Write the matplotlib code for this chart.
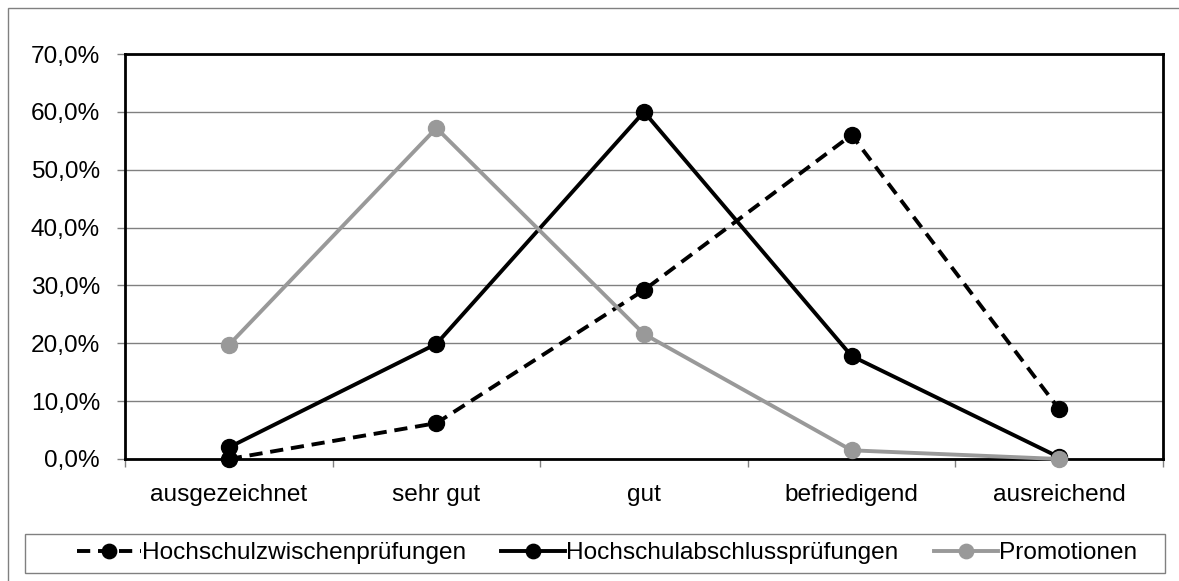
"""Notenverteilung: Zwischenprüfungen, Abschlussprüfungen, Promotionen."""

import numpy as np
import matplotlib as mpl
mpl.use("Agg")
import matplotlib.pyplot as plt
from matplotlib.patches import Rectangle
from matplotlib.ticker import FuncFormatter

plt.rcParams["font.family"] = ["Liberation Sans", "DejaVu Sans"]

# grade categories
GRADES = ["ausgezeichnet", "sehr gut", "gut", "befriedigend", "ausreichend"]

# share of grades in percent
ZWISCHEN = [0.0, 6.2, 29.2, 56.0, 8.6]
ABSCHLUSS = [2.0, 19.9, 60.0, 17.8, 0.3]
PROMOTION = [19.7, 57.2, 21.6, 1.5, 0.0]

LABELS = ["Hochschulzwischenprüfungen", "Hochschulabschlussprüfungen",
          "Promotionen"]

W, H = 1179, 581
FS = 17.6


def pct(v, pos):
    return f"{v:.1f}%".replace(".", ",")


def make_plot():
    fig = plt.figure(figsize=(W / 100, H / 100), dpi=100)
    ax = fig.add_axes([125 / W, 1 - 459 / H, (1163 - 125) / W, (459 - 54) / H])

    # outer chart border
    fig.patches.append(Rectangle((8 / W, -0.1), 1.2, 1 - 8 / H + 0.1,
                                 transform=fig.transFigure, fill=False,
                                 ec="#808080", lw=1.0))
    # legend border
    fig.patches.append(Rectangle((25 / W, 1 - 573 / H), (1165 - 25) / W,
                                 39 / H, transform=fig.transFigure,
                                 fill=False, ec="#808080", lw=1.0))

    x = np.arange(len(GRADES))
    ax.plot(x, ZWISCHEN, c="black", lw=2.8, ls=(0, (3.4, 2.0)),
            marker="o", ms=11.5, label=LABELS[0], zorder=3, clip_on=False)
    ax.plot(x, ABSCHLUSS, c="black", lw=2.8, marker="o", ms=11.5,
            label=LABELS[1], zorder=4, clip_on=False)
    ax.plot(x, PROMOTION, c="#999999", lw=2.8, marker="o", ms=11.5,
            label=LABELS[2], zorder=5, clip_on=False)

    ax.set_xlim(-0.5, len(GRADES) - 0.5)
    ax.set_ylim(0, 70)
    ax.set_yticks(np.arange(0, 71, 10))
    ax.yaxis.set_major_formatter(FuncFormatter(pct))
    ax.grid(axis="y", c="#808080", lw=1.0)
    ax.set_axisbelow(True)

    ax.set_xticks(x)
    ax.set_xticklabels(GRADES)
    ax.set_xticks(np.arange(-0.5, len(GRADES)), minor=True)
    ax.tick_params(axis="x", which="major", length=0, pad=18, labelsize=FS)
    ax.tick_params(axis="x", which="minor", length=6, width=1,
                   color="#808080", direction="out")
    ax.tick_params(axis="y", length=6, width=1, color="#808080", pad=12,
                   labelsize=FS)

    for s in ax.spines.values():
        s.set_color("black")
        s.set_linewidth(2.0)

    fig.legend(
        loc="center", ncol=3, fontsize=FS, frameon=False,
        bbox_to_anchor=(607 / W, 1 - 553 / H),
        handlelength=2.6, handletextpad=0.05, columnspacing=1.45,
        borderaxespad=0, borderpad=0.2, markerscale=0.9
    )

    fig.savefig("out.png", dpi=100)
    return None


if __name__ == "__main__":
    make_plot()
